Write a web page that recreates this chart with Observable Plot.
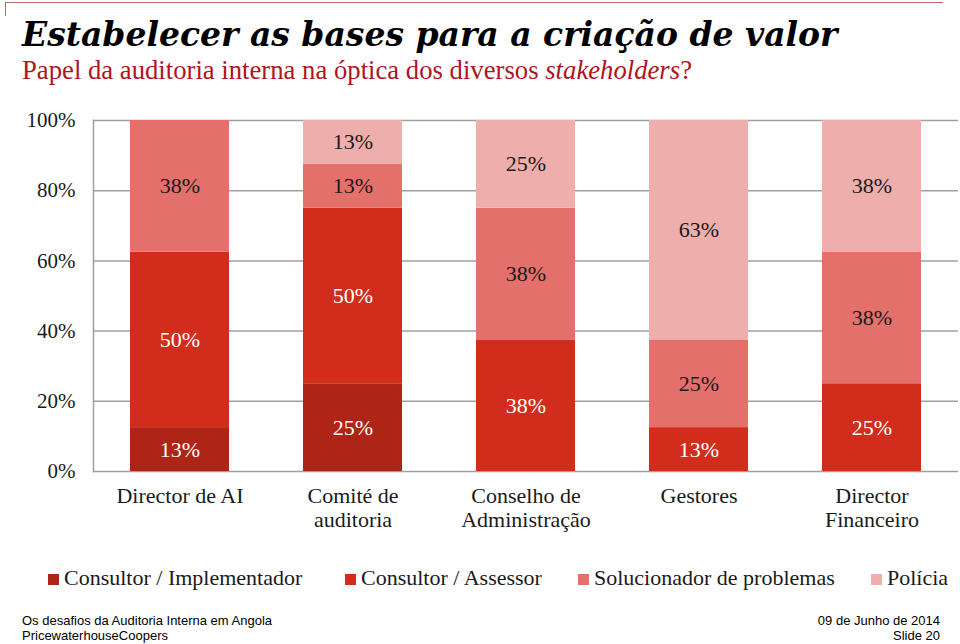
<!DOCTYPE html>
<html><head><meta charset="utf-8">
<script src="https://cdn.jsdelivr.net/npm/d3@7"></script>
<script src="https://cdn.jsdelivr.net/npm/@observablehq/plot@0.6"></script>
<style>
body{margin:0;background:#fff;}
#page{position:relative;width:960px;height:644px;overflow:hidden;font-family:"Liberation Serif",serif;color:#1a1a1a;}
#topline{position:absolute;left:5px;top:2px;width:938px;height:0;border-top:1.5px solid #b86a68;}
#toptick{position:absolute;left:5px;top:2px;width:0;height:14px;border-left:1.5px solid #b86a68;}
#title{position:absolute;left:22px;top:15px;font-family:"DejaVu Serif",serif;font-weight:bold;font-style:italic;font-size:33px;white-space:nowrap;color:#000;}
#subtitle{position:absolute;left:22px;top:55px;font-size:26.7px;color:#b0141c;white-space:nowrap;}
#chart{position:absolute;left:0;top:100px;}
.leg{position:absolute;top:566px;font-size:22px;white-space:nowrap;line-height:24px;}
.leg span{display:inline-block;width:11px;height:11px;margin-right:5px;}
.foot{position:absolute;font-family:"Liberation Sans",Arial,sans-serif;font-size:13px;color:#000;white-space:nowrap;line-height:15px;}
</style></head><body>
<div id="page">
  <div id="topline"></div><div id="toptick"></div>
  <div id="title">Estabelecer as bases para a criação de valor</div>
  <div id="subtitle">Papel da auditoria interna na óptica dos diversos <i>stakeholders</i>?</div>
  <div id="chart"></div>
  <div id="legend"></div>
  <div class="foot" style="left:22px;top:613px;">Os desafios da Auditoria Interna em Angola<br>PricewaterhouseCoopers</div>
  <div class="foot" style="right:20px;top:613px;text-align:right;">09 de Junho de 2014<br>Slide 20</div>
</div>
<script>
const categories = ["Director de AI", "Comité de auditoria", "Conselho de Administração", "Gestores", "Director Financeiro"];
const categoryLabels = ["Director de AI", "Comité de\nauditoria", "Conselho de\nAdministração", "Gestores", "Director\nFinanceiro"];
const series = ["Consultor / Implementador", "Consultor / Assessor", "Solucionador de problemas", "Polícia"];
const seriesColors = ["#ae2416", "#d22d1c", "#e4706b", "#eeaeab"];
const lightText = ["Consultor / Implementador", "Consultor / Assessor"];
const implementador = [12.5, 25, 0, 0, 0];
const assessor = [50, 50, 37.5, 12.5, 25];
const solucionador = [37.5, 12.5, 37.5, 25, 37.5];
const policia = [0, 12.5, 25, 62.5, 37.5];
const yTicks = [0, 20, 40, 60, 80, 100];

const seriesValues = [implementador, assessor, solucionador, policia];
const rows = [];
series.forEach((s, i) => categories.forEach((c, j) => {
  const v = seriesValues[i][j];
  if (v > 0) rows.push({series: s, category: c, value: v});
}));
const labelOf = new Map(categories.map((c, i) => [c, categoryLabels[i]]));
const pct = d => Math.round(d.value) + "%";

const chart = Plot.plot({
  width: 960, height: 450,
  marginTop: 20, marginBottom: 79, marginLeft: 93, marginRight: 2,
  style: {fontFamily: "Liberation Serif, serif", fontSize: "21px", color: "#1a1a1a", background: "transparent"},
  x: {domain: categories, paddingInner: 0.43, paddingOuter: 0.215, label: null},
  y: {domain: [0, 100], label: null},
  color: {domain: series, range: seriesColors},
  marks: [
    Plot.ruleY(yTicks, {stroke: "#a0a0a0", strokeWidth: 1.5}),
    Plot.frame({anchor: "left", stroke: "#a0a0a0", strokeWidth: 1.5}),
    Plot.barY(rows, Plot.stackY({x: "category", y: "value", fill: "series", z: "series"})),
    Plot.text(rows, Plot.stackY({x: "category", y: "value", z: "series",
      text: d => lightText.includes(d.series) ? pct(d) : null, fill: "white", fontSize: 22})),
    Plot.text(rows, Plot.stackY({x: "category", y: "value", z: "series",
      text: d => lightText.includes(d.series) ? null : pct(d), fill: "#1a1a1a", fontSize: 22})),
    Plot.axisY({ticks: yTicks, tickFormat: d => d + "%", tickSize: 0, tickPadding: 18, fontSize: 21, label: null}),
    Plot.axisX({tickSize: 0, tickPadding: 14, tickFormat: d => labelOf.get(d), fontSize: 22, lineHeight: 1.1, label: null})
  ]
});
document.getElementById("chart").appendChild(chart);

const legendX = [48, 345, 578, 871];
const legend = document.getElementById("legend");
series.forEach((s, i) => {
  const d = document.createElement("div");
  d.className = "leg";
  d.style.left = legendX[i] + "px";
  d.innerHTML = `<span style="background:${seriesColors[i]}"></span>${s}`;
  legend.appendChild(d);
});
</script>
</body></html>
